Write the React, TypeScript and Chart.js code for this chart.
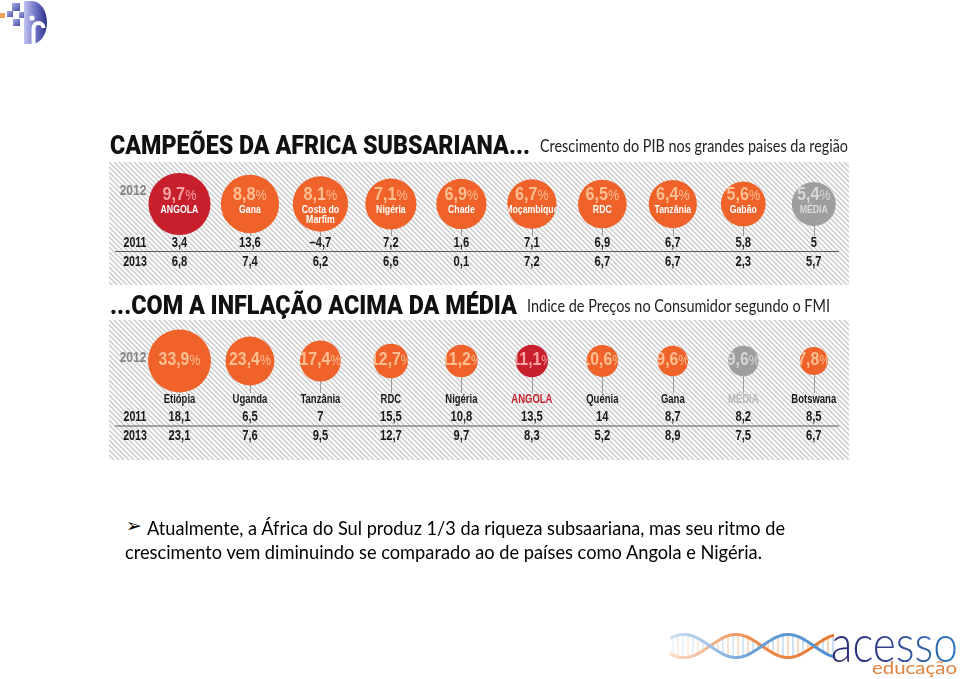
import React, { useEffect, useLayoutEffect, useRef } from "react";
import { Chart, registerables } from "chart.js";
Chart.register(...registerables);

// ---------- DATA ----------
const gdpCountries = ["ANGOLA", "Gana", "Costa do|Marfim", "Nigéria", "Chade", "Moçambique", "RDC", "Tanzânia", "Gabão", "MÉDIA"];
const gdp2012 = [9.7, 8.8, 8.1, 7.1, 6.9, 6.7, 6.5, 6.4, 5.6, 5.4];
const gdp2011 = [3.4, 13.6, -4.7, 7.2, 1.6, 7.1, 6.9, 6.7, 5.8, 5];
const gdp2013 = [6.8, 7.4, 6.2, 6.6, 0.1, 7.2, 6.7, 6.7, 2.3, 5.7];

const inflCountries = ["Etiópia", "Uganda", "Tanzânia", "RDC", "Nigéria", "ANGOLA", "Quénia", "Gana", "MÉDIA", "Botswana"];
const infl2012 = [33.9, 23.4, 17.4, 12.7, 11.2, 11.1, 10.6, 9.6, 9.6, 7.8];
const infl2011 = [18.1, 6.5, 7, 15.5, 10.8, 13.5, 14, 8.7, 8.2, 8.5];
const infl2013 = [23.1, 7.6, 9.5, 12.7, 9.7, 8.3, 5.2, 8.9, 7.5, 6.7];

const yearLabels = ["2012", "2011", "2013"];

const title1 = "CAMPEÕES DA AFRICA SUBSARIANA...";
const subtitle1 = "Crescimento do PIB nos grandes paises da região";
const title2 = "...COM A INFLAÇÃO ACIMA DA MÉDIA";
const subtitle2 = "Indice de Preços no Consumidor segundo o FMI";
const bodyLine1 = "Atualmente, a África do Sul produz 1/3 da riqueza subsaariana, mas seu ritmo de";
const bodyLine2 = "crescimento vem diminuindo se comparado ao de países como Angola e Nigéria.";

// ---------- STYLE ----------
const SANS = '"Liberation Sans", Arial, sans-serif';
const ORANGE = "#EF6229";
const RED = "#C81F2D";
const GREY = "#9E9E9E";

const fmt = (v: number) => (v < 0 ? "–" : "") + String(Math.abs(v)).replace(".", ",");
const fillFor = (name: string) => (name === "ANGOLA" ? RED : name === "MÉDIA" ? GREY : ORANGE);
const pctColorFor = (name: string) => (name === "ANGOLA" ? "#F6A3A3" : name === "MÉDIA" ? "#D6D6D6" : "#FDBE92");

type PanelCfg = {
  countries: string[];
  main: number[];
  row1: number[];
  row2: number[];
  radius: (v: number) => number;
  namesInside: boolean;
  padBottom: number;
  yearY: number;
  stemEnd: number;
  labelY: number;
  row1Y: number;
  lineY: number;
  row2Y: number;
  pctY?: number;
};

function makeHatch(ctx: CanvasRenderingContext2D) {
  const c = document.createElement("canvas");
  c.width = 5;
  c.height = 5;
  const g = c.getContext("2d")!;
  g.fillStyle = "#fafafa";
  g.fillRect(0, 0, 5, 5);
  g.strokeStyle = "#c2c2c2";
  g.lineWidth = 1.1;
  g.beginPath();
  g.moveTo(-1, -1); g.lineTo(6, 6);
  g.moveTo(-1, 4); g.lineTo(1, 6);
  g.moveTo(4, -1); g.lineTo(6, 1);
  g.stroke();
  return ctx.createPattern(c, "repeat")!;
}

// condensed text: draws with horizontal compression sx
function ntext(ctx: CanvasRenderingContext2D, text: string, x: number, y: number, font: string, sx: number, align: CanvasTextAlign = "center") {
  ctx.save();
  ctx.font = font;
  ctx.textAlign = align;
  ctx.translate(x, y);
  ctx.scale(sx, 1);
  ctx.fillText(text, 0, 0);
  ctx.restore();
}
function nwidth(ctx: CanvasRenderingContext2D, text: string, font: string, sx: number) {
  ctx.save();
  ctx.font = font;
  const w = ctx.measureText(text).width * sx;
  ctx.restore();
  return w;
}

function drawPct(ctx: CanvasRenderingContext2D, x: number, baseline: number, v: number, numSize: number, pctSize: number, color: string, sx: number) {
  const num = fmt(v);
  const f1 = `bold ${numSize}px ${SANS}`;
  const f2 = `${pctSize}px ${SANS}`;
  const w1 = nwidth(ctx, num, f1, sx);
  const w2 = nwidth(ctx, "%", f2, sx);
  const startX = x - (w1 + w2) / 2;
  ctx.fillStyle = color;
  ctx.textBaseline = "alphabetic";
  ntext(ctx, num, startX, baseline, f1, sx, "left");
  ntext(ctx, "%", startX + w1, baseline, f2, sx, "left");
}

function makePlugin(cfg: PanelCfg) {
  let pattern: CanvasPattern | null = null;
  return {
    id: "panelDecor",
    beforeDraw(chart: any) {
      const ctx: CanvasRenderingContext2D = chart.ctx;
      if (!pattern) pattern = makeHatch(ctx);
      ctx.save();
      ctx.fillStyle = pattern;
      ctx.fillRect(0, 0, chart.width, chart.height);
      ctx.restore();
    },
    beforeDatasetsDraw(chart: any) {
      const ctx: CanvasRenderingContext2D = chart.ctx;
      const meta = chart.getDatasetMeta(0);
      ctx.save();
      ctx.strokeStyle = "#9a9a9a";
      ctx.lineWidth = 1;
      meta.data.forEach((el: any) => {
        const x = Math.round(el.x) + 0.5;
        ctx.beginPath();
        ctx.moveTo(x, el.y);
        ctx.lineTo(x, cfg.stemEnd);
        ctx.stroke();
      });
      // separator line
      ctx.strokeStyle = "#5a5a5a";
      ctx.beginPath();
      ctx.moveTo(6, cfg.lineY + 0.5);
      ctx.lineTo(730, cfg.lineY + 0.5);
      ctx.stroke();
      // year labels
      ctx.textBaseline = "middle";
      ctx.fillStyle = "#858585";
      ntext(ctx, yearLabels[0], 24, cfg.yearY, `bold 15px ${SANS}`, 0.8);
      ctx.fillStyle = "#1a1a1a";
      ntext(ctx, yearLabels[1], 26, cfg.row1Y, `bold 14px ${SANS}`, 0.76);
      ntext(ctx, yearLabels[2], 26, cfg.row2Y, `bold 14px ${SANS}`, 0.76);
      // rows
      meta.data.forEach((el: any, i: number) => {
        ctx.fillStyle = "#1a1a1a";
        ntext(ctx, fmt(cfg.row1[i]), el.x, cfg.row1Y, `bold 14px ${SANS}`, 0.8);
        ntext(ctx, fmt(cfg.row2[i]), el.x, cfg.row2Y, `bold 14px ${SANS}`, 0.8);
        if (!cfg.namesInside) {
          const name = cfg.countries[i];
          ctx.fillStyle = name === "ANGOLA" ? RED : name === "MÉDIA" ? "#b8b8b8" : "#1a1a1a";
          ntext(ctx, name, el.x, cfg.labelY, `bold 12.5px ${SANS}`, 0.76);
        }
      });
      ctx.restore();
    },
    afterDatasetsDraw(chart: any) {
      const ctx: CanvasRenderingContext2D = chart.ctx;
      const meta = chart.getDatasetMeta(0);
      meta.data.forEach((el: any, i: number) => {
        const name = cfg.countries[i];
        const v = cfg.main[i];
        const r = cfg.radius(v);
        ctx.save();
        ctx.beginPath();
        ctx.arc(el.x, el.y, r, 0, Math.PI * 2);
        ctx.clip();
        if (cfg.namesInside) {
          drawPct(ctx, el.x, el.y - 4, v, 18, 14, pctColorFor(name), 0.9);
          const lines = name.split("|");
          ctx.fillStyle = name === "MÉDIA" ? "#dadada" : "#ffffff";
          ctx.textBaseline = "middle";
          lines.forEach((ln, k) => ntext(ctx, ln, el.x, el.y + 5.5 + k * 10, `bold 11.5px ${SANS}`, 0.76));
        } else {
          drawPct(ctx, el.x, (cfg.pctY as number) + 6.5, v, 18, 14, pctColorFor(name), 0.88);
        }
        ctx.restore();
      });
    },
  };
}

function Panel({ cfg, left, top, width, height }: { cfg: PanelCfg; left: number; top: number; width: number; height: number }) {
  const ref = useRef<HTMLCanvasElement>(null);
  useEffect(() => {
    if (!ref.current) return;
    const chart = new Chart(ref.current, {
      type: "bubble",
      data: {
        datasets: [
          {
            data: cfg.main.map((v, i) => ({ x: i, y: 0, r: cfg.radius(v) })),
            backgroundColor: cfg.countries.map(fillFor),
            borderWidth: 0,
            hoverBorderWidth: 0,
            hoverRadius: 0,
            clip: false as any,
          },
        ],
      },
      options: {
        responsive: false,
        animation: false,
        events: [],
        layout: { padding: { left: 0, right: 0, top: 0, bottom: cfg.padBottom }, autoPadding: false } as any,
        plugins: { legend: { display: false }, tooltip: { enabled: false } },
        scales: {
          x: { type: "linear", min: -1, max: 9.5, display: false },
          y: { type: "linear", min: -1, max: 1, display: false },
        },
      },
      plugins: [makePlugin(cfg) as any],
    });
    return () => chart.destroy();
  }, [cfg]);
  return <canvas ref={ref} width={width} height={height} style={{ position: "absolute", left, top, width, height }} />;
}

function Fit({ text, left, top, width, style }: { text: string; left: number; top: number; width: number; style: React.CSSProperties }) {
  const ref = useRef<HTMLSpanElement>(null);
  useLayoutEffect(() => {
    const el = ref.current;
    if (!el) return;
    el.style.transform = "none";
    const w = el.getBoundingClientRect().width;
    if (w > 0) el.style.transform = `scaleX(${width / w})`;
  }, [text, width]);
  return (
    <span
      ref={ref}
      style={{ position: "absolute", left, top, whiteSpace: "nowrap", transformOrigin: "0 0", lineHeight: 1, ...style }}
    >
      {text}
    </span>
  );
}

const gdpCfg: PanelCfg = {
  countries: gdpCountries,
  main: gdp2012,
  row1: gdp2011,
  row2: gdp2013,
  radius: (v) => 22 + (v - 5.4) * 2.1,
  namesInside: true,
  padBottom: 39,
  yearY: 29,
  stemEnd: 74,
  labelY: 0,
  row1Y: 81.5,
  lineY: 89,
  row2Y: 100.5,
};

const inflCfg: PanelCfg = {
  countries: inflCountries,
  main: infl2012,
  row1: infl2011,
  row2: infl2013,
  radius: (v) => 14 + (v - 7.8) * 0.67,
  namesInside: false,
  padBottom: 58,
  yearY: 38,
  stemEnd: 73,
  labelY: 80,
  row1Y: 97,
  lineY: 105.5,
  row2Y: 116,
  pctY: 38,
};

function helix(phase: number, x0: number, x1: number, cy: number, amp: number, period: number) {
  let d = "";
  for (let x = x0; x <= x1; x += 1) {
    const y = cy + amp * Math.sin(((x - x0) / period) * 2 * Math.PI + phase);
    d += (x === x0 ? "M" : "L") + x.toFixed(1) + " " + y.toFixed(1) + " ";
  }
  return d;
}

function BottomLogo() {
  const x0 = 2, x1 = 166, cy = 18, amp = 11.5, period = 104, ph = 0.725;
  const rungs: JSX.Element[] = [];
  for (let x = x0 + 3; x < x1; x += 5) {
    const t = ((x - x0) / period) * 2 * Math.PI + ph;
    const ya = cy + amp * Math.sin(t);
    const yb = cy - amp * Math.sin(t);
    rungs.push(
      <line key={x} x1={x} x2={x} y1={ya} y2={yb} stroke={x % 10 < 5 ? "#f3b27a" : "#9cc3e6"} strokeWidth={1.3} />
    );
  }
  return (
    <>
      <svg width={170} height={40} style={{ position: "absolute", left: 668, top: 628 }}>
        <defs>
          <linearGradient id="fade" x1="0" y1="0" x2="1" y2="0">
            <stop offset="0" stopColor="#fff" stopOpacity="0.75" />
            <stop offset="0.5" stopColor="#fff" stopOpacity="0.15" />
            <stop offset="1" stopColor="#fff" stopOpacity="0" />
          </linearGradient>
        </defs>
        <g opacity={0.8}>{rungs}</g>
        <path d={helix(ph, x0, x1, cy, amp, period)} stroke="#e8782f" strokeWidth={3} fill="none" />
        <path d={helix(ph + Math.PI, x0, x1, cy, amp, period)} stroke="#4f8fd0" strokeWidth={3} fill="none" />
        <rect x={0} y={0} width={170} height={40} fill="url(#fade)" />
      </svg>
      <Fit
        text="acesso"
        left={831}
        top={611}
        width={127}
        style={{
          font: '300 52px Lato, "Open Sans", sans-serif',
          background: "linear-gradient(90deg, #2b2b6e 0%, #313c8c 40%, #2f7cc0 100%)",
          WebkitBackgroundClip: "text",
          backgroundClip: "text",
          color: "transparent",
        }}
      />
      <Fit text="educação" left={872} top={656} width={85} style={{ font: '18px Lato, "Open Sans", sans-serif', color: "#E0833F" }} />
    </>
  );
}

function TopLogo() {
  return (
    <svg width={50} height={48} style={{ position: "absolute", left: 0, top: 0 }}>
      <defs>
        <linearGradient id="lgA" x1="0" y1="0" x2="1" y2="1">
          <stop offset="0" stopColor="#a6abe6" />
          <stop offset="1" stopColor="#4a4ea6" />
        </linearGradient>
        <linearGradient id="lgB" x1="0" y1="0" x2="1" y2="0">
          <stop offset="0" stopColor="#c3c6ef" />
          <stop offset="0.5" stopColor="#6f74c8" />
          <stop offset="1" stopColor="#2f3288" />
        </linearGradient>
      </defs>
      <rect x={0} y={13} width={5} height={5} fill="#f3a35c" />
      <rect x={12} y={3} width={8} height={8} fill="url(#lgA)" />
      <rect x={7} y={11} width={6} height={6} fill="url(#lgA)" />
      <rect x={19} y={12} width={6} height={6} fill="url(#lgA)" />
      <rect x={13} y={19} width={7} height={7} fill="url(#lgA)" />
      <path d="M24 1 H32 A15 21.5 0 0 1 32 44 H24 Z" fill="url(#lgB)" />
      <path d="M33.5 44 V28 A5 5 0 0 1 43.5 28" stroke="#fff" strokeWidth={4} fill="none" />
      <circle cx={32} cy={18} r={2.6} fill="#fff" />
    </svg>
  );
}

export default function App() {
  return (
    <div style={{ position: "fixed", left: 0, top: 0, width: 960, height: 679, background: "#fff", overflow: "hidden" }}>
      <TopLogo />
      <Fit text={title1} left={110} top={130} width={420} style={{ font: '900 26px Roboto, "Liberation Sans", sans-serif', color: "#111" }} />
      <Fit text={subtitle1} left={540} top={135} width={308} style={{ font: '17px Lato, "Open Sans", sans-serif', color: "#222" }} />
      <Panel cfg={gdpCfg} left={109} top={162} width={740} height={123} />
      <Fit text={title2} left={110} top={290} width={407} style={{ font: '900 26px Roboto, "Liberation Sans", sans-serif', color: "#111" }} />
      <Fit text={subtitle2} left={527} top={295} width={303} style={{ font: '17px Lato, "Open Sans", sans-serif', color: "#222" }} />
      <Panel cfg={inflCfg} left={109} top={320} width={740} height={140} />
      <span style={{ position: "absolute", left: 126, top: 516, font: '19px "DejaVu Sans", sans-serif', lineHeight: 1, color: "#000" }}>➢</span>
      <Fit text={bodyLine1} left={147} top={516} width={638} style={{ font: '19px Lato, "Open Sans", sans-serif', color: "#000" }} />
      <Fit text={bodyLine2} left={125} top={540} width={637} style={{ font: '19px Lato, "Open Sans", sans-serif', color: "#000" }} />
      <BottomLogo />
    </div>
  );
}
